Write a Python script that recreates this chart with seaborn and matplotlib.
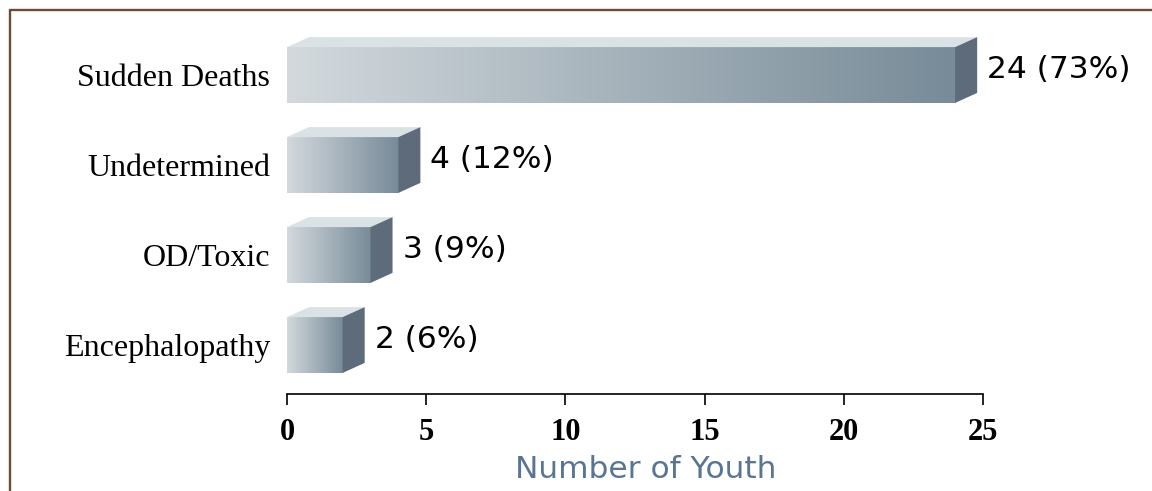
import numpy as np
import pandas as pd
import matplotlib
matplotlib.use("Agg")
import matplotlib.pyplot as plt
from matplotlib.colors import LinearSegmentedColormap
from matplotlib.patches import Polygon
from matplotlib.lines import Line2D
import seaborn as sns

# ---- data ----
categories = ["Sudden Deaths", "Undetermined", "OD/Toxic", "Encephalopathy"]
counts = [24, 4, 3, 2]
percents = [73, 12, 9, 6]
x_ticks = [0, 5, 10, 15, 20, 25]
x_label = "Number of Youth"

sns.set_theme(style="ticks")

W, H = 1152, 491
fig = plt.figure(figsize=(W / 100, H / 100), dpi=100)
ax = fig.add_axes([287 / W, (H - 394) / H, (983 - 287) / W, (394 - 20) / H])

df = pd.DataFrame({"category": categories, "count": counts})
sns.barplot(data=df, x="count", y="category", orient="h", width=0.62,
            color="#a0adb6", ax=ax, zorder=2)

cmap = LinearSegmentedColormap.from_list("front", ["#d3d9dd", "#778b98"])
grad = np.linspace(0, 1, 256).reshape(1, -1)

dx = 22 / 27.84       # depth in data units (x)
dy = 10 / 90.0        # depth in category units (y)

bars = list(ax.patches)
for patch, cnt, pct in zip(bars, counts, percents):
    x0, w = patch.get_x(), patch.get_width()
    y0, h = patch.get_y(), patch.get_height()
    im = ax.imshow(grad, cmap=cmap, extent=(x0, x0 + w, y0 + h, y0),
                   aspect="auto", zorder=2, interpolation="bicubic")
    im.set_clip_path(patch)
    patch.set_facecolor("none")
    patch.set_edgecolor("none")
    top = Polygon([(x0, y0), (x0 + dx, y0 - dy), (x0 + w + dx, y0 - dy), (x0 + w, y0)],
                  closed=True, facecolor="#dbe2e6", edgecolor="none", zorder=3)
    side = Polygon([(x0 + w, y0), (x0 + w + dx, y0 - dy), (x0 + w + dx, y0 + h - dy),
                    (x0 + w, y0 + h)], closed=True, facecolor="#5d6b7b",
                   edgecolor="none", zorder=3)
    ax.add_patch(top)
    ax.add_patch(side)
    ax.text(x0 + w + dx + 0.36, y0 + h / 2 - dy / 2, f"{cnt} ({pct}%)",
            ha="left", va="center", fontsize=22.5, color="black",
            family="DejaVu Sans", clip_on=False)

ax.set_xlim(0, 25)
ax.set_ylim(3 + 49 / 90, -55 / 90)
ax.set_xticks(x_ticks)
ax.set_xticklabels([str(t) for t in x_ticks], fontsize=22, fontweight="bold",
                   family="Liberation Serif", color="black")
ax.set_yticks(range(len(categories)))
ax.set_yticklabels(categories, fontsize=23, family="Liberation Serif", color="black")

ax.tick_params(axis="x", direction="out", length=8, width=1.2, color="black",
               pad=9, bottom=True, labelcolor="black")
ax.tick_params(axis="y", length=0, pad=12, left=False, labelcolor="black")

for s in ["top", "right", "left"]:
    ax.spines[s].set_visible(False)
ax.spines["bottom"].set_color("black")
ax.spines["bottom"].set_linewidth(1.2)

ax.set_ylabel("")
ax.set_xlabel(x_label, fontsize=22.5, color="#5a7591", family="DejaVu Sans")
ax.xaxis.set_label_coords((646 - 287) / 696, -0.163)
ax.patch.set_alpha(0)

# brown frame lines
fig.add_artist(Line2D([9.5 / W, 9.5 / W], [0, 1 - 9.5 / H], transform=fig.transFigure,
                      color="#6e4a36", lw=1.7))
fig.add_artist(Line2D([9.5 / W, 1], [1 - 9.5 / H, 1 - 9.5 / H], transform=fig.transFigure,
                      color="#6e4a36", lw=1.7))

fig.savefig("out.png", dpi=100, facecolor="white")
